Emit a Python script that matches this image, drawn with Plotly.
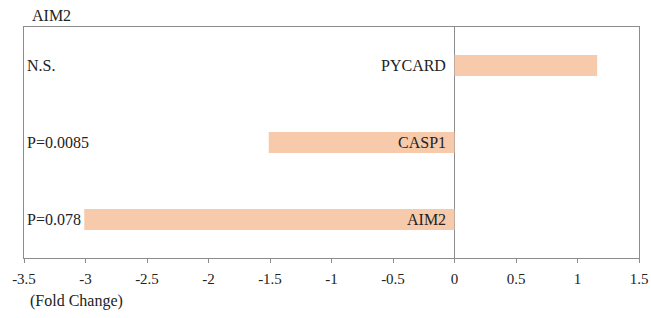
import plotly.graph_objects as go

genes = ["AIM2", "CASP1", "PYCARD"]
fold_change = [-3.01, -1.51, 1.16]
p_values = ["P=0.078", "P=0.0085", "N.S."]
x_ticks = [-3.5, -3, -2.5, -2, -1.5, -1, -0.5, 0, 0.5, 1, 1.5]
x_tick_labels = ["-3.5", "-3", "-2.5", "-2", "-1.5", "-1", "-0.5", "0", "0.5", "1", "1.5"]

FONT = "Liberation Serif, Times New Roman, serif"
GRAY = "#8c8c8c"
FS = 16

fig = go.Figure()
fig.add_trace(go.Bar(
    x=fold_change, y=genes, orientation="h",
    marker=dict(color="#F7CAAB", line=dict(width=0)),
    width=0.27, hoverinfo="skip",
))

annotations = []
for g, p in zip(genes, p_values):
    annotations.append(dict(x=0, y=g, xref="x", yref="y", text=g, showarrow=False,
                            xanchor="right", xshift=-7, font=dict(family=FONT, size=FS, color="#222")))
    annotations.append(dict(x=0, y=g, xref="paper", yref="y", text=p, showarrow=False,
                            xanchor="left", xshift=1, font=dict(family=FONT, size=FS, color="#222")))
annotations.append(dict(x=0, y=1, xref="paper", yref="paper", text="AIM2", showarrow=False,
                        xanchor="left", yanchor="bottom", xshift=6, yshift=1,
                        font=dict(family=FONT, size=FS, color="#222")))
annotations.append(dict(x=0, y=0, xref="paper", yref="paper", text="(Fold Change)", showarrow=False,
                        xanchor="left", yanchor="top", xshift=4, yshift=-32,
                        font=dict(family=FONT, size=FS, color="#222")))

fig.update_layout(
    width=651, height=318,
    margin=dict(l=24, r=12, t=27, b=60, autoexpand=False),
    paper_bgcolor="white", plot_bgcolor="white",
    showlegend=False,
    annotations=annotations,
    xaxis=dict(range=[-3.5, 1.5], tickvals=x_ticks, ticktext=x_tick_labels,
               automargin=False,
               showgrid=False, zeroline=True, zerolinecolor=GRAY, zerolinewidth=1,
               showline=True, linecolor=GRAY, linewidth=1, mirror=True,
               ticks="outside", ticklen=4, tickcolor=GRAY, ticklabelstandoff=3,
               tickfont=dict(family=FONT, size=15, color="#222")),
    yaxis=dict(type="category", categoryarray=genes, range=[-0.5, 2.5],
               automargin=False,
               showgrid=False, showticklabels=False, ticks="",
               showline=True, linecolor=GRAY, linewidth=1, mirror=True),
)

# remove the page's default 8px body margin so the figure fills the window exactly
fig.write_html("out.html", config={"displayModeBar": False},
               post_script="document.body.style.margin='0';document.body.style.overflow='hidden';")
